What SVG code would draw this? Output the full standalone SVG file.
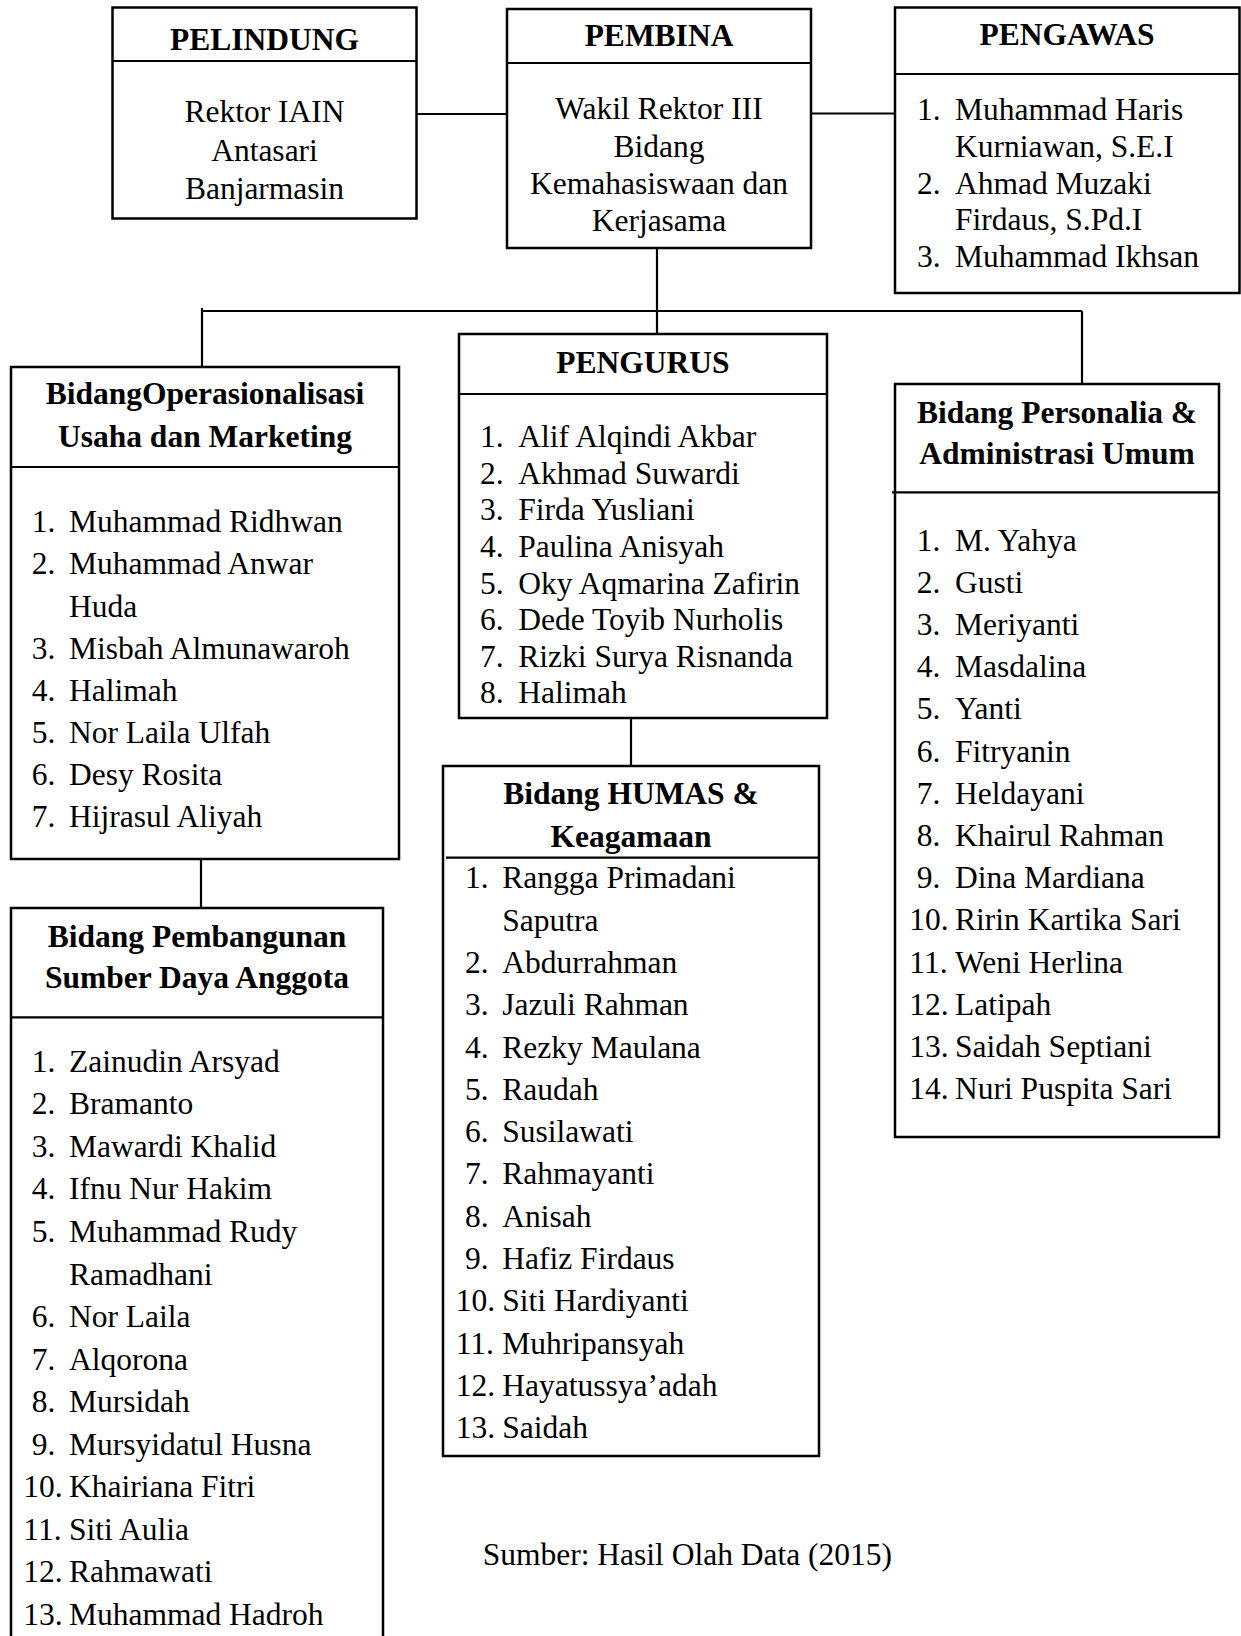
<svg xmlns="http://www.w3.org/2000/svg" width="1241" height="1636" viewBox="0 0 1241 1636">
<style>
.box{fill:#fff;stroke:#000;stroke-width:2.5}
.div{stroke:#000;stroke-width:2.2}
.con{stroke:#000;stroke-width:2.2;fill:none}
text{font-family:"Liberation Serif","Times New Roman",serif;font-size:31.5px;fill:#000}
.h{font-weight:bold;text-anchor:middle}
.c{text-anchor:middle}
</style>
<rect width="1241" height="1636" fill="#fff"/>
<g id="connectors">
<line class="con" x1="416.5" y1="114" x2="507" y2="114"/>
<line class="con" x1="811" y1="113.5" x2="895" y2="113.5"/>
<line class="con" x1="657" y1="248" x2="657" y2="334"/>
<line class="con" x1="201" y1="311" x2="1082" y2="311"/>
<line class="con" x1="202" y1="308" x2="202" y2="367"/>
<line class="con" x1="1082" y1="311" x2="1082" y2="384"/>
<line class="con" x1="631" y1="718" x2="631" y2="766"/>
<line class="con" x1="201" y1="859" x2="201" y2="908"/>
</g>
<g id="pelindung">
<rect class="box" x="112.5" y="7.5" width="304" height="211"/>
<line class="div" x1="112.5" y1="61" x2="416.5" y2="61"/>
<text class="h" x="264.5" y="50">PELINDUNG</text>
<text class="c" x="264.5" y="122">Rektor IAIN</text>
<text class="c" x="264.5" y="160.5">Antasari</text>
<text class="c" x="264.5" y="199">Banjarmasin</text>
</g>
<g id="pembina">
<rect class="box" x="507" y="9" width="304" height="239"/>
<line class="div" x1="507" y1="63" x2="811" y2="63"/>
<text class="h" x="659" y="45.5">PEMBINA</text>
<text class="c" x="659" y="119">Wakil Rektor III</text>
<text class="c" x="659" y="156.5">Bidang</text>
<text class="c" x="659" y="194">Kemahasiswaan dan</text>
<text class="c" x="659" y="231">Kerjasama</text>
</g>
<g id="pengawas">
<rect class="box" x="895" y="7.5" width="344.5" height="285.5"/>
<line class="div" x1="895" y1="74" x2="1239.5" y2="74"/>
<text class="h" x="1067" y="45">PENGAWAS</text>
<text x="917" y="120">1.</text><text x="955" y="120">Muhammad Haris</text>
<text x="955" y="156.5">Kurniawan, S.E.I</text>
<text x="917" y="193.5">2.</text><text x="955" y="193.5">Ahmad Muzaki</text>
<text x="955" y="230">Firdaus, S.Pd.I</text>
<text x="917" y="266.5">3.</text><text x="955" y="266.5">Muhammad Ikhsan</text>
</g>
<g id="operasionalisasi">
<rect class="box" x="11" y="367" width="388" height="492"/>
<line class="div" x1="11" y1="467" x2="399" y2="467"/>
<text class="h" x="205" y="404.3">BidangOperasionalisasi</text>
<text class="h" x="205" y="447.2">Usaha dan Marketing</text>
<text x="31.7" y="532.3">1.</text><text x="69" y="532.3">Muhammad Ridhwan</text>
<text x="31.7" y="574.4">2.</text><text x="69" y="574.4">Muhammad Anwar</text>
<text x="69" y="616.5">Huda</text>
<text x="31.7" y="658.6">3.</text><text x="69" y="658.6">Misbah Almunawaroh</text>
<text x="31.7" y="700.7">4.</text><text x="69" y="700.7">Halimah</text>
<text x="31.7" y="742.8">5.</text><text x="69" y="742.8">Nor Laila Ulfah</text>
<text x="31.7" y="784.9">6.</text><text x="69" y="784.9">Desy Rosita</text>
<text x="31.7" y="827">7.</text><text x="69" y="827">Hijrasul Aliyah</text>
</g>
<g id="pengurus">
<rect class="box" x="459" y="334" width="368" height="384"/>
<line class="div" x1="459" y1="394" x2="827" y2="394"/>
<text class="h" x="643" y="373.3">PENGURUS</text>
<text x="480" y="447.3">1.</text><text x="518.3" y="447.3">Alif Alqindi Akbar</text>
<text x="480" y="483.9">2.</text><text x="518.3" y="483.9">Akhmad Suwardi</text>
<text x="480" y="520.4">3.</text><text x="518.3" y="520.4">Firda Yusliani</text>
<text x="480" y="557">4.</text><text x="518.3" y="557">Paulina Anisyah</text>
<text x="480" y="593.6">5.</text><text x="518.3" y="593.6">Oky Aqmarina Zafirin</text>
<text x="480" y="630.1">6.</text><text x="518.3" y="630.1">Dede Toyib Nurholis</text>
<text x="480" y="666.7">7.</text><text x="518.3" y="666.7">Rizki Surya Risnanda</text>
<text x="480" y="703.3">8.</text><text x="518.3" y="703.3">Halimah</text>
</g>
<g id="personalia">
<rect class="box" x="895" y="384" width="324" height="753"/>
<line class="div" x1="892" y1="492.3" x2="1219" y2="492.3"/>
<text class="h" x="1057" y="422.7">Bidang Personalia &amp;</text>
<text class="h" x="1057" y="464">Administrasi Umum</text>
<text x="916.7" y="550.7">1.</text><text x="955" y="550.7">M. Yahya</text>
<text x="916.7" y="592.9">2.</text><text x="955" y="592.9">Gusti</text>
<text x="916.7" y="635.1">3.</text><text x="955" y="635.1">Meriyanti</text>
<text x="916.7" y="677.2">4.</text><text x="955" y="677.2">Masdalina</text>
<text x="916.7" y="719.4">5.</text><text x="955" y="719.4">Yanti</text>
<text x="916.7" y="761.6">6.</text><text x="955" y="761.6">Fitryanin</text>
<text x="916.7" y="803.8">7.</text><text x="955" y="803.8">Heldayani</text>
<text x="916.7" y="846">8.</text><text x="955" y="846">Khairul Rahman</text>
<text x="916.7" y="888.1">9.</text><text x="955" y="888.1">Dina Mardiana</text>
<text x="909.3" y="930.3">10.</text><text x="955" y="930.3">Ririn Kartika Sari</text>
<text x="909.3" y="972.5">11.</text><text x="955" y="972.5">Weni Herlina</text>
<text x="909.3" y="1014.7">12.</text><text x="955" y="1014.7">Latipah</text>
<text x="909.3" y="1056.9">13.</text><text x="955" y="1056.9">Saidah Septiani</text>
<text x="909.3" y="1099">14.</text><text x="955" y="1099">Nuri Puspita Sari</text>
</g>
<g id="humas">
<rect class="box" x="443" y="766" width="376" height="690"/>
<line class="div" x1="446" y1="857.7" x2="819" y2="857.7"/>
<text class="h" x="631" y="804.3">Bidang HUMAS &amp;</text>
<text class="h" x="631" y="846.7">Keagamaan</text>
<text x="465" y="888.3">1.</text><text x="502.3" y="888.3">Rangga Primadani</text>
<text x="502.3" y="930.6">Saputra</text>
<text x="465" y="972.9">2.</text><text x="502.3" y="972.9">Abdurrahman</text>
<text x="465" y="1015.2">3.</text><text x="502.3" y="1015.2">Jazuli Rahman</text>
<text x="465" y="1057.5">4.</text><text x="502.3" y="1057.5">Rezky Maulana</text>
<text x="465" y="1099.8">5.</text><text x="502.3" y="1099.8">Raudah</text>
<text x="465" y="1142.1">6.</text><text x="502.3" y="1142.1">Susilawati</text>
<text x="465" y="1184.4">7.</text><text x="502.3" y="1184.4">Rahmayanti</text>
<text x="465" y="1226.7">8.</text><text x="502.3" y="1226.7">Anisah</text>
<text x="465" y="1269">9.</text><text x="502.3" y="1269">Hafiz Firdaus</text>
<text x="455.7" y="1311.3">10.</text><text x="502.3" y="1311.3">Siti Hardiyanti</text>
<text x="455.7" y="1353.6">11.</text><text x="502.3" y="1353.6">Muhripansyah</text>
<text x="455.7" y="1395.9">12.</text><text x="502.3" y="1395.9">Hayatussya’adah</text>
<text x="455.7" y="1438.2">13.</text><text x="502.3" y="1438.2">Saidah</text>
</g>
<g id="sdm">
<rect class="box" x="11" y="908" width="372" height="740"/>
<line class="div" x1="11" y1="1017.3" x2="383" y2="1017.3"/>
<text class="h" x="197" y="947.3">Bidang Pembangunan</text>
<text class="h" x="197" y="988.3">Sumber Daya Anggota</text>
<text x="31.7" y="1071.7">1.</text><text x="69" y="1071.7">Zainudin Arsyad</text>
<text x="31.7" y="1114.3">2.</text><text x="69" y="1114.3">Bramanto</text>
<text x="31.7" y="1156.8">3.</text><text x="69" y="1156.8">Mawardi Khalid</text>
<text x="31.7" y="1199.4">4.</text><text x="69" y="1199.4">Ifnu Nur Hakim</text>
<text x="31.7" y="1242">5.</text><text x="69" y="1242">Muhammad Rudy</text>
<text x="69" y="1284.5">Ramadhani</text>
<text x="31.7" y="1327.1">6.</text><text x="69" y="1327.1">Nor Laila</text>
<text x="31.7" y="1369.6">7.</text><text x="69" y="1369.6">Alqorona</text>
<text x="31.7" y="1412.2">8.</text><text x="69" y="1412.2">Mursidah</text>
<text x="31.7" y="1454.7">9.</text><text x="69" y="1454.7">Mursyidatul Husna</text>
<text x="23.3" y="1497.3">10.</text><text x="69" y="1497.3">Khairiana Fitri</text>
<text x="23.3" y="1539.9">11.</text><text x="69" y="1539.9">Siti Aulia</text>
<text x="23.3" y="1582.4">12.</text><text x="69" y="1582.4">Rahmawati</text>
<text x="23.3" y="1625">13.</text><text x="69" y="1625">Muhammad Hadroh</text>
</g>
<text x="482.7" y="1565">Sumber: Hasil Olah Data (2015)</text>
</svg>
